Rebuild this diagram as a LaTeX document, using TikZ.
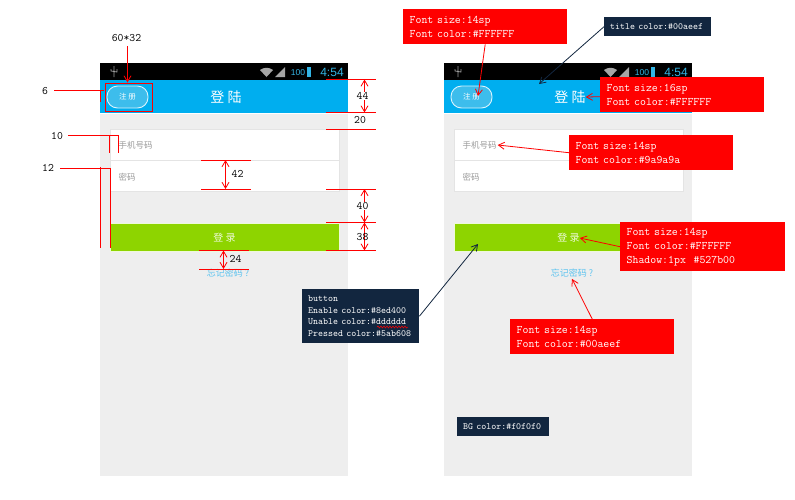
\documentclass[tikz,border=0pt]{standalone}
\usepackage{fontspec}
\newfontfamily\cjk{Noto Sans CJK SC}
\newfontfamily\statusfont{Liberation Sans}
\usetikzlibrary{arrows.meta,decorations.pathmorphing}
\definecolor{barblue}{HTML}{00AEEF}
\definecolor{pillblue}{HTML}{3DBDEC}
\definecolor{statusblue}{HTML}{33B5E5}
\definecolor{screengray}{HTML}{EEEEEE}
\definecolor{fieldline}{HTML}{E4E4E4}
\definecolor{btngreen}{HTML}{8ED400}
\definecolor{hintgray}{HTML}{9A9A9A}
\definecolor{linkblue}{HTML}{5CC3EE}
\definecolor{notenavy}{HTML}{12263F}
\tikzset{
  rednote/.style={fill=red, text=white, anchor=north west, inner xsep=6.5pt, inner ysep=0pt, text width=151pt, align=left, font=\ttfamily\fontsize{11.5}{14}\selectfont},
  navynote/.style={fill=notenavy, text=white, anchor=north west, inner xsep=6pt, inner ysep=0pt, align=left, font=\ttfamily\fontsize{9.5}{11.5}\selectfont},
  dimtext/.style={inner sep=0pt, font=\ttfamily\fontsize{11.4}{12}\selectfont},
  dimline/.style={red, line width=0.9pt},
  dimarrow/.style={red, line width=0.8pt, {Straight Barb[length=6pt,width=7pt]}-{Straight Barb[length=6pt,width=7pt]}},
  redarrow/.style={red, line width=0.8pt, -{Straight Barb[length=6pt,width=7pt]}},
  navyarrow/.style={notenavy, line width=0.8pt, -{Straight Barb[length=6pt,width=7pt]}},
}
\begin{document}
\begin{tikzpicture}[x=1pt,y=-1pt]
\useasboundingbox (0,0) rectangle (795,499);
% the two phone screens
\foreach \px/\pid in {0/l,344/r}{
\begin{scope}[xshift=\px]
\fill[screengray] (100,63) rectangle (348,476);
\fill[black] (100,63) rectangle (348,80);
\fill[barblue] (100,80) rectangle (348,113);
\draw[white] (100,113.5) -- (348,113.5);
% status bar
\draw[gray!80, line width=0.8pt] (114,66) -- (114,77) (111,69) -- (111,71) -- (117,72) -- (117,69);
\fill[gray!70] (260,70) .. controls (264,67) and (269,67) .. (273,70) -- (266.5,77) -- cycle;
\fill[gray!70] (275,77) -- (285,67) -- (285,77) -- cycle;
\node[inner sep=0pt, text=statusblue, font=\statusfont\fontsize{8.5}{10}\selectfont] (level\pid) at (298,72.5) {100};
\fill[statusblue] (307,67) rectangle (311,77);
\node[inner sep=0pt, text=statusblue, font=\statusfont\fontsize{12}{14}\selectfont] (clock\pid) at (332,72.5) {4:54};
% title bar
\node[draw=white!85!barblue, fill=pillblue, line width=0.9pt, rounded corners=10.5pt, minimum width=41pt, minimum height=22pt, inner sep=0pt, text=white, font=\cjk\fontsize{7.5}{9}\selectfont] (reg\pid) at (127.5,97) {注 册};
\node[inner sep=0pt, text=white, font=\cjk\fontsize{14}{16}\selectfont] (title\pid) at (226,97) {登 陆};
% input fields
\node[draw=fieldline, fill=white, anchor=north west, minimum width=229pt, minimum height=31pt, inner sep=0pt] (phone\pid) at (109.5,129) {};
\node[draw=fieldline, fill=white, anchor=north west, minimum width=229pt, minimum height=31pt, inner sep=0pt] (pass\pid) at (109.5,160) {};
\node[inner sep=1pt, text=hintgray, font=\cjk\fontsize{8.5}{10}\selectfont] (hint\pid) at (135.5,145) {手机号码};
\node[inner sep=1pt, text=hintgray, font=\cjk\fontsize{8.5}{10}\selectfont] (hintb\pid) at (127,177) {密码};
% button and link
\node[draw=white!85!btngreen, fill=btngreen, anchor=north west, minimum width=229pt, minimum height=28pt, inner sep=0pt] (btn\pid) at (109.5,223) {};
\node[inner sep=0pt, text=white!85!btngreen, font=\cjk\fontsize{10}{12}\selectfont] (login\pid) at (224.5,238) {登 录};
\node[inner sep=1pt, text=linkblue, font=\cjk\fontsize{9}{10}\selectfont] (forgot\pid) at (228,273.5) {忘记密码 ?};
\end{scope}
}
% left screen measures
\node[dimtext] (sizetxt) at (126.5,38) {60*32};
\node[draw=red, line width=0.9pt, anchor=north west, minimum width=47pt, minimum height=28pt, inner sep=0pt] (regbox) at (104.5,82.5) {};
\coordinate (sizeend) at (127.5,46);
\draw[redarrow] (sizeend) -- (sizeend |- regbox.north);
\node[dimtext] (six) at (45,91) {6};
\coordinate (sixa) at (104,90);
\coordinate (sixb) at (100.5,90);
\coordinate (sixc) at (100.5,102);
\draw[dimline] (six.east) ++(6,-1) -- (sixa);
\draw[dimline] (sixb) -- (sixc);
\node[dimtext] (ten) at (57,136) {10};
\coordinate (tena) at (118.5,135.5);
\coordinate (tenb) at (118.5,153);
\coordinate (tenc) at (109.5,135.5);
\coordinate (tend) at (109.5,153);
\draw[dimline] (ten.east) ++(5,-0.5) -- (tena) -- (tenb);
\draw[dimline] (tenc) -- (tend);
\node[dimtext] (twelve) at (48,168) {12};
\coordinate (twa) at (110.5,168.5);
\coordinate (twb) at (110.5,247.5);
\coordinate (twc) at (100.5,167);
\coordinate (twd) at (100.5,247.5);
\draw[dimline] (twelve.east) ++(6,0.5) -- (twa) -- (twb);
\draw[dimline] (twc) -- (twd);
% short measure lines
\foreach \dx/\dy/\did in {201/160/a,201/189/b,199/250.5/c,199/269/d,326/79.5/e,326/112.5/f,326/129/g,326/189/h,326/222.5/i,326/250.5/j}{
\coordinate (dl\did) at (\dx,\dy);
\coordinate (dm\did) at (\dx+24.5,\dy);
\coordinate (dn\did) at (\dx+38.5,\dy);
\coordinate (dr\did) at (\dx+50,\dy);
\draw[dimline] (dl\did) -- (dr\did);
}
\draw[dimarrow] (dma) -- (dmb);
\draw[dimarrow] (dmc) -- (dmd);
\draw[dimarrow] (dne) -- (dnf);
\draw[dimarrow] (dnh) -- (dni);
\draw[dimarrow] (dni) -- (dnj);
\node[dimtext] (dfortytwo) at (237.5,174) {42};
\node[dimtext] (dtwentyfour) at (235.5,259) {24};
\node[dimtext, fill=white] (dfortyfour) at (362.5,96) {44};
\node[dimtext] (dtwenty) at (360,120) {20};
\node[dimtext, fill=white] (dforty) at (362.5,206) {40};
\node[dimtext] (dthirtyeight) at (362.5,237) {38};
% notes
\node[rednote, minimum height=35pt] (notereg) at (403,9) {Font size:14sp\\Font color:\#FFFFFF};
\node[rednote, minimum height=35pt] (notetitle) at (600,77) {Font size:16sp\\Font color:\#FFFFFF};
\node[rednote, minimum height=35pt] (notehint) at (569,135) {Font size:14sp\\Font color:\#9a9a9a};
\node[rednote, minimum height=49pt, text width=152pt] (notelogin) at (620,222) {Font size:14sp\\Font color:\#FFFFFF\\Shadow:1px \ \#527b00};
\node[rednote, minimum height=35pt] (noteforgot) at (510,319) {Font size:14sp\\Font color:\#00aeef};
\node[navynote, minimum height=19pt, text width=95pt] (notebar) at (604,17) {title color:\#00aeef};
\node[navynote, minimum height=54pt, text width=105pt] (notebtn) at (302,289) {button\\Enable color:\#8ed400\\Unable color:\#dddddd\\Pressed color:\#5ab608};
\node[navynote, minimum height=19pt, text width=80pt] (notebg) at (457,417) {BG color:\#f0f0f0};
\coordinate (wava) at (377,327);
\coordinate (wavb) at (408,327);
\draw[red, line width=0.5pt, decorate, decoration={snake, amplitude=1pt, segment length=3pt}] (wava) -- (wavb);
% note arrows
\coordinate (regend) at (478,96);
\coordinate (barend) at (539,84);
\coordinate (btnend) at (478,244);
\draw[redarrow] (notereg.south) -- (regend);
\draw[redarrow] (notetitle.west) ++(0,2) -- (titler.east);
\draw[redarrow] (notehint.west) -- (hintr.east);
\draw[redarrow] (notelogin.west) -- (loginr.east);
\draw[redarrow] (noteforgot.north) -- (forgotr.south);
\draw[navyarrow] (notebar.west) -- (barend);
\draw[navyarrow] (notebtn.east) -- (btnend);
\end{tikzpicture}
\end{document}
